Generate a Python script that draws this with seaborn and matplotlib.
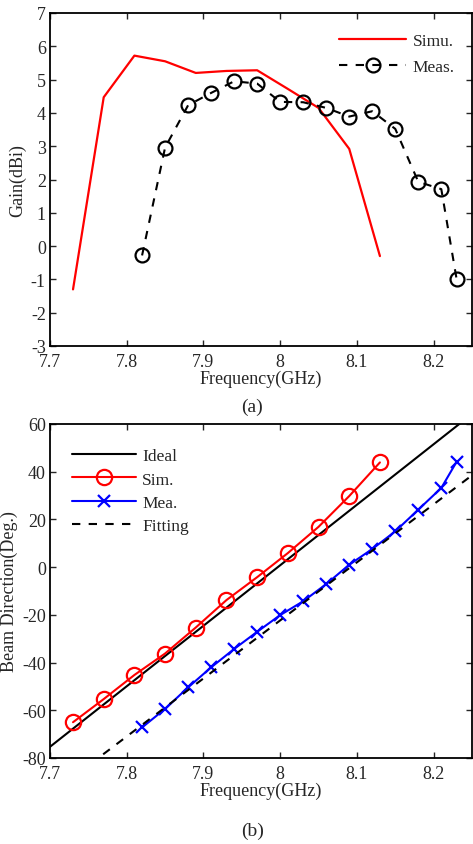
import matplotlib
matplotlib.use("Agg")
import matplotlib.pyplot as plt
import seaborn as sns
import pandas as pd

# Gain vs frequency
simu_freq = [7.73, 7.77, 7.81, 7.85, 7.89, 7.93, 7.97, 8.01, 8.05, 8.09, 8.13]
simu_gain = [-1.3, 4.47, 5.72, 5.55, 5.2, 5.26, 5.28, 4.72, 4.15, 2.92, -0.3]
meas_freq = [7.82, 7.85, 7.88, 7.91, 7.94, 7.97, 8.00, 8.03, 8.06, 8.09, 8.12,
             8.15, 8.18, 8.21, 8.23]
meas_gain = [-0.28, 2.96, 4.23, 4.6, 4.95, 4.88, 4.33, 4.32, 4.15, 3.89, 4.05,
             3.52, 1.93, 1.71, -1.0]

# Beam direction vs frequency
ideal_freq = [7.70, 8.25]
ideal_deg = [-75.3, 64.2]
sim_freq = [7.73, 7.77, 7.81, 7.85, 7.89, 7.93, 7.97, 8.01, 8.05, 8.09, 8.13]
sim_deg = [-65, -55.3, -45.2, -36.2, -25.3, -13.8, -4.2, 5.9, 16.9, 29.8, 43.9]
mea_freq = [7.82, 7.85, 7.88, 7.91, 7.94, 7.97, 8.00, 8.03, 8.06, 8.09, 8.12,
            8.15, 8.18, 8.21, 8.23]
mea_deg = [-67.2, -59.4, -50.4, -42, -34.3, -27.1, -20.1, -14.3, -7.1, 1.0,
           7.6, 15, 24.1, 33.2, 44.2]
fit_freq = [7.70, 8.25]
fit_deg = [-95.3, 38.5]

x_ticks = [7.7, 7.8, 7.9, 8.0, 8.1, 8.2]
x_ticklabels = ["7.7", "7.8", "7.9", "8", "8.1", "8.2"]

sns.set_theme(style="ticks")
plt.rcParams["font.family"] = ["Liberation Serif", "DejaVu Serif"]
plt.rcParams["axes.unicode_minus"] = False

fig = plt.figure(figsize=(4.73, 8.45), dpi=100)
ax1 = fig.add_axes([50 / 473, 1 - 347 / 845, 422 / 473, 333 / 845])
ax2 = fig.add_axes([50 / 473, 1 - 759 / 845, 422 / 473, 334 / 845])

FS = 13
LFS = 12.5
text_color = "#262626"


def style_axes(ax):
    for s in ax.spines.values():
        s.set_visible(True)
        s.set_color("black")
        s.set_linewidth(1.3)
    ax.tick_params(direction="in", length=4, width=1.0, top=True, right=True,
                   labelsize=FS, labelcolor=text_color)
    ax.tick_params(axis="x", pad=5)
    ax.tick_params(axis="y", pad=3)
    ax.set_xlim(7.7, 8.25)
    ax.set_xticks(x_ticks)
    ax.set_xticklabels(x_ticklabels)
    ax.grid(False)


df_simu = pd.DataFrame({"f": simu_freq, "g": simu_gain})
df_meas = pd.DataFrame({"f": meas_freq, "g": meas_gain})
sns.lineplot(data=df_simu, x="f", y="g", ax=ax1, color="#ff0000", lw=1.6,
             label="Simu.")
sns.lineplot(data=df_meas, x="f", y="g", ax=ax1, color="black", lw=1.5,
             linestyle=(0, (4, 4)), marker="o", markersize=10,
             markerfacecolor="none", markeredgecolor="black",
             markeredgewidth=1.6, label="Meas.")
style_axes(ax1)
ax1.set_ylim(-3, 7)
ax1.set_yticks(range(-3, 8))
ax1.set_xlabel("Frequency(GHz)", fontsize=FS, color=text_color, labelpad=0)
ax1.set_ylabel("Gain(dBi)", fontsize=FS, color=text_color, labelpad=3)
ax1.legend(loc="upper right", bbox_to_anchor=(0.975, 0.96), frameon=False,
           fontsize=LFS, handlelength=3.9, handletextpad=0.35,
           labelspacing=0.55, borderaxespad=0)

df_ideal = pd.DataFrame({"f": ideal_freq, "d": ideal_deg})
df_sim = pd.DataFrame({"f": sim_freq, "d": sim_deg})
df_mea = pd.DataFrame({"f": mea_freq, "d": mea_deg})
df_fit = pd.DataFrame({"f": fit_freq, "d": fit_deg})
sns.lineplot(data=df_ideal, x="f", y="d", ax=ax2, color="black", lw=1.5,
             label="Ideal")
sns.lineplot(data=df_sim, x="f", y="d", ax=ax2, color="#ff0000", lw=1.5,
             marker="o", markersize=11, markerfacecolor="none",
             markeredgecolor="#ff0000", markeredgewidth=1.6, label="Sim.")
sns.lineplot(data=df_mea, x="f", y="d", ax=ax2, color="#0000ff", lw=1.5,
             marker="x", markersize=8, markeredgecolor="#0000ff",
             markeredgewidth=1.6, label="Mea.")
sns.lineplot(data=df_fit, x="f", y="d", ax=ax2, color="black", lw=1.5,
             linestyle=(0, (4, 4)), label="Fitting")
style_axes(ax2)
ax2.set_ylim(-80, 60)
ax2.set_yticks(range(-80, 61, 20))
ax2.set_xlabel("Frequency(GHz)", fontsize=FS, color=text_color, labelpad=0)
ax2.set_ylabel("Beam Direction(Deg.)", fontsize=FS, color=text_color, labelpad=3)
ax2.legend(loc="upper left", bbox_to_anchor=(0.035, 0.948), frameon=False,
           fontsize=LFS, handlelength=3.7, handletextpad=0.35,
           labelspacing=0.4, borderaxespad=0)

fig.text(252 / 473, 1 - 407 / 845, "(a)", ha="center", va="center",
         fontsize=14, color=text_color)
fig.text(253 / 473, 1 - 831 / 845, "(b)", ha="center", va="center",
         fontsize=14, color=text_color)

fig.savefig("out.png", dpi=100)
